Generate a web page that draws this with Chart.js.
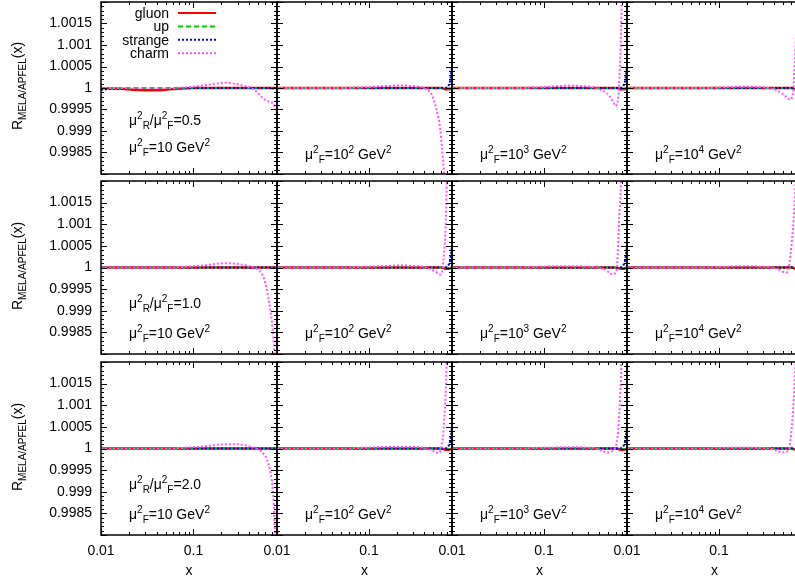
<!DOCTYPE html>
<html>
<head>
<meta charset="utf-8">
<script src="https://cdn.jsdelivr.net/npm/chart.js@4.4.0/dist/chart.umd.min.js"></script>
<style>
html, body { margin: 0; padding: 0; background: #fff; overflow: hidden; }
#fig { position: relative; width: 795px; height: 588px; overflow: hidden; background: #fff; }
#fig canvas { position: absolute; }
</style>
</head>
<body>
<div id="fig"></div>
<script>
// x grid shared by every panel
var xs = [0.01, 0.013, 0.017, 0.022, 0.03, 0.04, 0.055, 0.075, 0.1, 0.13, 0.17, 0.22, 0.28, 0.35, 0.42, 0.48, 0.53, 0.57, 0.6, 0.62, 0.64, 0.66, 0.68, 0.7, 0.73, 0.76, 0.8];

// light partons, nearly flat at 1
var gluon_r05_q1 = [1, 0.99999, 0.99998, 0.99996, 0.99995, 0.99995, 0.99997, 0.99999, 1, 1, 1, 1, 1, 1, 1, 1, 1, 1, 1, 1, 1, 1, 1, 1, 1, 1, 1];
var gluon_flat   = [1, 1, 1, 1, 1, 1, 1, 1, 1, 1, 1, 1, 1, 1, 1, 1, 1, 1, 1, 1, 1, 1, 1, 1, 1, 1, 1];
var gluon_end    = [1, 1, 1, 1, 1, 1, 1, 1, 1, 1, 1, 1, 1, 1, 1, 1, 1, 1, 1, 1, 0.99999, 0.99998, 0.99997, 0.99997, 0.99997, 0.99998, 1];
var up_flat      = [1, 1, 1, 1, 1, 1, 1, 1, 1, 1, 1, 1, 1, 1, 1, 1, 1, 1, 1, 1, 1, 1, 1, 1, 0.99999, 0.99999, 1];
var strange_r05_q1 = [0.99996, 0.99998, 0.99999, 1, 1, 1, 1, 1, 1, 1, 1, 1, 1, 1, 1, 1, 1, 1, 1, 1, 1, 1, 1, 1, 1, 1, 1];
var strange_flat = [1, 1, 1, 1, 1, 1, 1, 1, 1, 1, 1, 1, 1, 1, 1, 1, 1, 1, 1, 1, 1, 1, 1, 1, 1, 1, 1];
var strange_end  = [1, 1, 1, 1, 1, 1, 1, 1, 1, 1, 1, 1, 1, 1, 1, 1, 1, 1, 1, 1, 1, 1, 1, 1.00002, 1.00005, 1.00015, 1.0005];

// charm, mu_R^2/mu_F^2 = 0.5
var charm_r05_q1 = [1, 1, 1, 1, 1, 1, 1, 1.00001, 1.00003, 1.00006, 1.0001, 1.00012, 1.0001, 1.00005, 1.0, 0.99992, 0.99982, 0.99975, 0.99972, 0.9997, 0.99969, 0.99968, 0.99967, 0.99966, 0.99964, 0.99956, 0.99938];
var charm_r05_q2 = [1, 1, 1, 1, 1, 1, 1, 1.00001, 1.00002, 1.00004, 1.00005, 1.00006, 1.00005, 1.00003, 0.99997, 0.99985, 0.99958, 0.9993, 0.999, 0.99865, 0.9983, 0.9979, 0.9974, 0.9968, 0.996, 0.995, 0.994];
var charm_r05_q3 = [1, 1, 1, 1, 1, 1, 1, 1.00001, 1.00002, 1.00004, 1.00005, 1.00005, 1.00004, 1.00001, 0.99995, 0.99988, 0.99978, 0.99966, 0.99958, 0.99962, 0.99975, 1.0002, 1.0009, 1.002, 1.005, 1.009, 1.015];
var charm_r05_q4 = [1, 1, 1, 1, 1, 1, 1, 1, 1.00001, 1.00002, 1.00003, 1.00003, 1.00002, 1.0, 0.99995, 0.99988, 0.99981, 0.99975, 0.99973, 0.99977, 0.9999, 1.00045, 1.001, 1.0018, 1.0035, 1.006, 1.01];
// charm, ratio 1.0
var charm_r10_q1 = [1, 1, 1, 1, 1, 1, 1, 1.00001, 1.00003, 1.00005, 1.00008, 1.0001, 1.00009, 1.00006, 1.00002, 0.99998, 0.9999, 0.99978, 0.99963, 0.9995, 0.99935, 0.99918, 0.999, 0.9988, 0.9984, 0.9978, 0.9965];
var charm_r10_q2 = [1, 1, 1, 1, 1, 1, 1, 1.00001, 1.00002, 1.00003, 1.00004, 1.00005, 1.00004, 1.00003, 1.0, 0.99995, 0.9999, 0.99986, 0.99984, 0.99988, 1.0001, 1.0004, 1.0009, 1.0019, 1.004, 1.007, 1.012];
var charm_r10_q3 = [1, 1, 1, 1, 1, 1, 1, 1.00001, 1.00002, 1.00003, 1.00003, 1.00003, 1.00002, 1.00001, 0.99998, 0.99993, 0.99986, 0.99984, 0.99988, 0.99998, 1.0005, 1.0012, 1.0017, 1.0024, 1.004, 1.007, 1.012];
var charm_r10_q4 = [1, 1, 1, 1, 1, 1, 1, 1, 1.00001, 1.00002, 1.00003, 1.00003, 1.00002, 1.00001, 0.99997, 0.99992, 0.99988, 0.99995, 1.0003, 1.0006, 1.0009, 1.0014, 1.002, 1.0027, 1.004, 1.006, 1.01];
// charm, ratio 2.0
var charm_r20_q1 = [1, 1, 1, 1, 1, 1, 1, 1.00001, 1.00003, 1.00005, 1.00008, 1.0001, 1.0001, 1.00008, 1.00004, 1.0, 0.99995, 0.99988, 0.99982, 0.99975, 0.99968, 0.99958, 0.99945, 0.9993, 0.9989, 0.998, 0.9965];
var charm_r20_q2 = [1, 1, 1, 1, 1, 1, 1, 1.00001, 1.00002, 1.00003, 1.00004, 1.00004, 1.00004, 1.00003, 1.0, 0.99996, 0.99992, 0.9999, 0.99995, 1.00012, 1.0003, 1.0007, 1.0012, 1.002, 1.0035, 1.006, 1.01];
var charm_r20_q3 = [1, 1, 1, 1, 1, 1, 1, 1.00001, 1.00002, 1.00002, 1.00003, 1.00003, 1.00002, 1.00001, 0.99996, 0.99991, 0.99992, 0.99996, 1.00004, 1.00014, 1.0004, 1.0008, 1.0014, 1.0021, 1.0035, 1.006, 1.01];
var charm_r20_q4 = [1, 1, 1, 1, 1, 1, 1, 1, 1.00001, 1.00002, 1.00002, 1.00002, 1.00001, 1.0, 0.99996, 0.99991, 0.99992, 0.99998, 1.0002, 1.0005, 1.0009, 1.0014, 1.002, 1.0028, 1.004, 1.006, 1.01];

// axes
var yTickLabels = [0.9985, 0.999, 0.9995, 1, 1.0005, 1.001, 1.0015];
var yMajor = [0.998, 0.9985, 0.999, 0.9995, 1, 1.0005, 1.001, 1.0015, 1.002];
var xTickLabels = [0.01, 0.1];
var xMinor = [0.02, 0.03, 0.04, 0.05, 0.06, 0.07, 0.08, 0.09, 0.2, 0.3, 0.4, 0.5, 0.6, 0.7, 0.8];
var ratioLabels = ['0.5', '1.0', '2.0'];
var scaleExps = ['', '2', '3', '4'];
var seriesNames = ['gluon', 'up', 'strange', 'charm'];

var charmSets = [
  [charm_r05_q1, charm_r05_q2, charm_r05_q3, charm_r05_q4],
  [charm_r10_q1, charm_r10_q2, charm_r10_q3, charm_r10_q4],
  [charm_r20_q1, charm_r20_q2, charm_r20_q3, charm_r20_q4]
];

var colors = ['#ff0000', '#00c800', '#0000ee', '#ff55ff'];
var dashes = [[], [5, 3], [2, 2], [2, 2]];
var widths = [2.5, 2, 2, 2];

var FONT = '"Liberation Sans", Arial, sans-serif';
Chart.defaults.font.family = FONT;
Chart.defaults.font.size = 14;
Chart.defaults.color = '#000';

// layout of the grid of panels
var colLeft = [101, 277, 452, 627];
var colW = [176, 175, 175, 175];
var rowTop = [2, 181, 362];
var rowH = [172, 173, 173];
var P = 22;

function segFont(s) { return (s[1] ? 10 : 14) + 'px ' + FONT; }
function drawRich(ctx, x, y, segs) {
  segs.forEach(function (s) {
    ctx.font = segFont(s);
    var dy = s[1] === 1 ? -6 : (s[1] === 2 ? 4 : 0);
    ctx.fillText(s[0], x, y + dy);
    x += ctx.measureText(s[0]).width;
  });
  return x;
}

var framePlugin = {
  id: 'frame',
  afterDatasetsDraw: function (chart) {
    var ctx = chart.ctx, a = chart.chartArea;
    var xS = chart.scales.x, yS = chart.scales.y;
    ctx.save();
    ctx.strokeStyle = '#000';
    ctx.lineWidth = 1;
    ctx.beginPath();
    yMajor.forEach(function (v) {
      var p = Math.round(yS.getPixelForValue(v)) + 0.5;
      ctx.moveTo(a.left, p); ctx.lineTo(a.left + 6, p);
      ctx.moveTo(a.right, p); ctx.lineTo(a.right - 6, p);
    });
    for (var k = 1; k < 40; k++) {
      if (k % 5 === 0) continue;
      var p = Math.round(yS.getPixelForValue(0.998 + k * 0.0001)) + 0.5;
      ctx.moveTo(a.left, p); ctx.lineTo(a.left + 3, p);
      ctx.moveTo(a.right, p); ctx.lineTo(a.right - 3, p);
    }
    xTickLabels.forEach(function (v) {
      var p = Math.round(xS.getPixelForValue(v)) + 0.5;
      ctx.moveTo(p, a.bottom); ctx.lineTo(p, a.bottom - 6);
      ctx.moveTo(p, a.top); ctx.lineTo(p, a.top + 6);
    });
    xMinor.forEach(function (v) {
      var p = Math.round(xS.getPixelForValue(v)) + 0.5;
      ctx.moveTo(p, a.bottom); ctx.lineTo(p, a.bottom - 3);
      ctx.moveTo(p, a.top); ctx.lineTo(p, a.top + 3);
    });
    ctx.stroke();
    ctx.lineWidth = 1.5;
    ctx.strokeRect(a.left, a.top, a.right - a.left, a.bottom - a.top);
    ctx.restore();
  }
};

var textPlugin = {
  id: 'panelText',
  afterDraw: function (chart, args, o) {
    var ctx = chart.ctx, a = chart.chartArea;
    ctx.save();
    ctx.fillStyle = '#000';
    ctx.textBaseline = 'alphabetic';
    ctx.textAlign = 'left';
    var x0 = a.left + 28;
    if (o.col === 0) {
      drawRich(ctx, x0, a.top + o.muR + 5, [['\u03bc', 0], ['2', 1], ['R', 2], ['/\u03bc', 0], ['2', 1], ['F', 2], ['=' + ratioLabels[o.row], 0]]);
      // y axis title, rotated
      ctx.save();
      ctx.translate(22, a.bottom - 44);
      ctx.rotate(-Math.PI / 2);
      drawRich(ctx, 0, 0, [['R', 0], ['MELA/APFEL', 2], ['(x)', 0]]);
      ctx.restore();
    }
    var fs = o.col === 0 ? [['\u03bc', 0], ['2', 1], ['F', 2], ['=10 GeV', 0], ['2', 1]]
      : [['\u03bc', 0], ['2', 1], ['F', 2], ['=10', 0], [scaleExps[o.col], 1], [' GeV', 0], ['2', 1]];
    drawRich(ctx, x0, a.top + o.muF + 5, fs);

    if (o.legend) {
      ctx.font = '14px ' + FONT;
      ctx.textAlign = 'right';
      chart.data.datasets.forEach(function (ds, i) {
        var yy = a.top + 11 + i * 13.4;
        ctx.fillText(ds.label, a.left + 68, yy + 5);
        ctx.save();
        ctx.strokeStyle = ds.borderColor;
        ctx.lineWidth = 2;
        ctx.setLineDash(ds.borderDash);
        ctx.beginPath();
        ctx.moveTo(a.left + 77, yy);
        ctx.lineTo(a.left + 115, yy);
        ctx.stroke();
        ctx.restore();
      });
    }
    ctx.restore();
  }
};

function points(arr) {
  return xs.map(function (x, i) { return { x: x, y: arr[i] }; });
}

var fig = document.getElementById('fig');
for (var r = 0; r < 3; r++) {
  for (var c = 0; c < 4; c++) {
    var first = c === 0, last = r === 2;
    var L = colLeft[c], T = rowTop[r], W = colW[c], H = rowH[r];
    var cw = (first ? L : P) + W + P;
    var ch = P + H + (last ? 53 : P);
    var cv = document.createElement('canvas');
    cv.width = cw; cv.height = ch;
    cv.style.left = (first ? 0 : L - P) + 'px';
    cv.style.top = (T - P) + 'px';
    cv.style.width = cw + 'px'; cv.style.height = ch + 'px';
    fig.appendChild(cv);

    var gluon = (r === 0 && c === 0) ? gluon_r05_q1 : (c === 0 ? gluon_flat : gluon_end);
    var strange = c === 0 ? (r === 0 ? strange_r05_q1 : strange_flat) : strange_end;
    var series = [gluon, up_flat, strange, charmSets[r][c]];

    new Chart(cv, {
      type: 'line',
      data: {
        datasets: series.map(function (arr, i) {
          return {
            label: seriesNames[i],
            data: points(arr),
            borderColor: colors[i],
            borderDash: dashes[i],
            borderWidth: widths[i],
            pointRadius: 0,
            fill: false,
            cubicInterpolationMode: 'monotone',
            clip: 0,
            order: 3 - i
          };
        })
      },
      options: {
        responsive: false,
        maintainAspectRatio: false,
        devicePixelRatio: 1,
        animation: false,
        events: [],
        layout: { padding: { left: first ? 0 : P, right: P, top: P, bottom: last ? 0 : P } },
        scales: {
          x: {
            type: 'logarithmic',
            min: 0.01, max: 0.8,
            display: last,
            grid: { display: false, drawTicks: false },
            border: { display: false },
            ticks: { autoSkip: false, maxRotation: 0, padding: 8, callback: function (v) { return String(v); } },
            title: { display: true, text: 'x', padding: { top: 0, bottom: 8 } },
            afterBuildTicks: function (s) { s.ticks = xTickLabels.map(function (v) { return { value: v }; }); },
            afterFit: function (s) { s.height = s.options.display ? 53 : 0; }
          },
          y: {
            min: 0.998, max: 1.002,
            display: first,
            grid: { display: false, drawTicks: false },
            border: { display: false },
            ticks: { padding: 9, callback: function (v) { return String(v); } },
            afterBuildTicks: function (s) { s.ticks = yTickLabels.map(function (v) { return { value: v }; }); },
            afterFit: function (s) { s.width = s.options.display ? 101 : 0; }
          }
        },
        plugins: {
          legend: { display: false },
          tooltip: { enabled: false },
          panelText: {
            row: r, col: c,
            legend: r === 0 && c === 0,
            muR: r === 0 ? 118 : 122,
            muF: (r === 0 && c === 0) ? 145 : 152
          }
        }
      },
      plugins: [framePlugin, textPlugin]
    });
  }
}
</script>
</body>
</html>
